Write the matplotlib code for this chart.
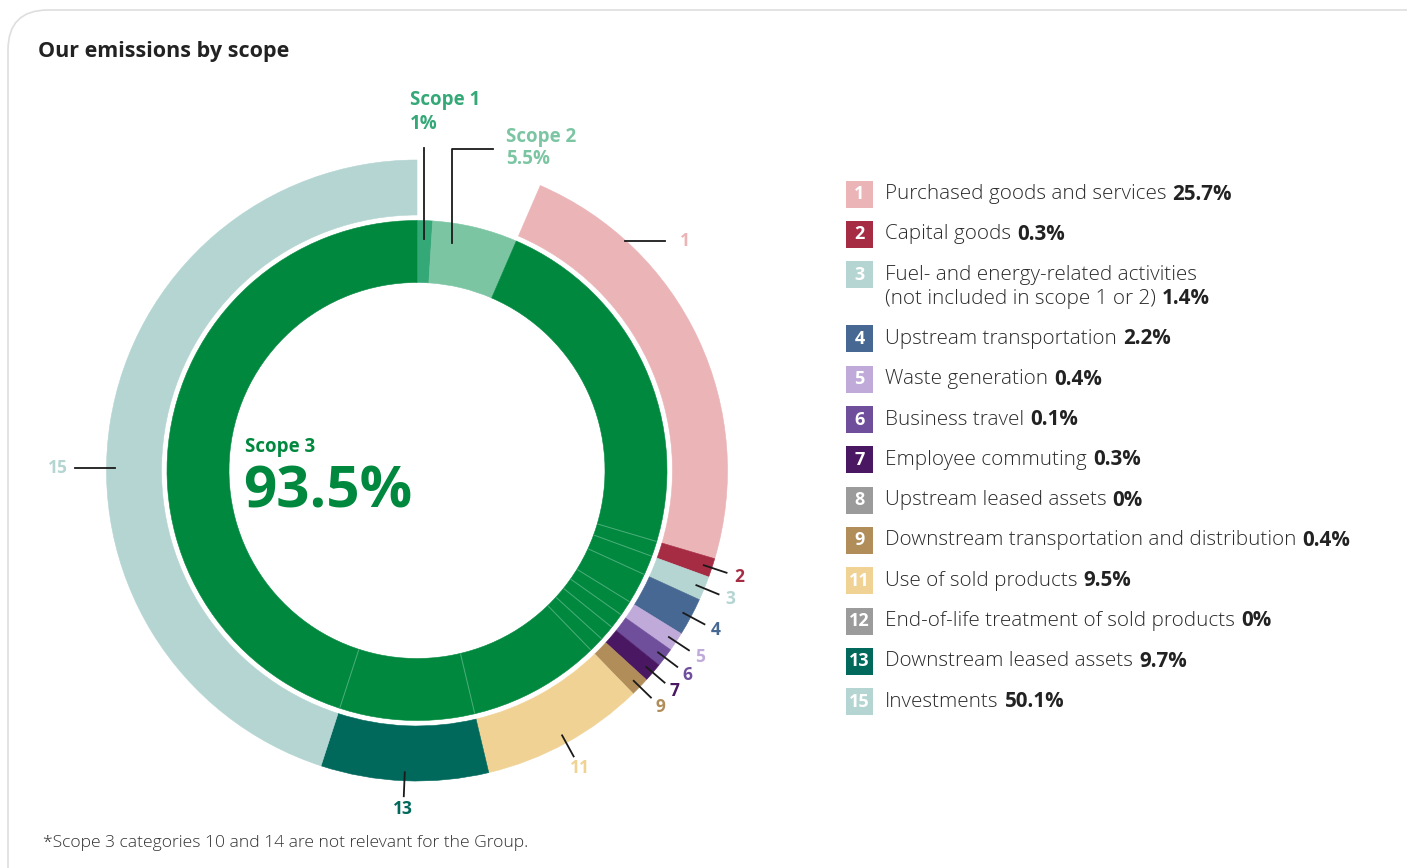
import matplotlib
matplotlib.use('Agg')
import matplotlib.pyplot as plt
from matplotlib.patches import FancyBboxPatch, Rectangle
import numpy as np

W, H = 1407, 868
plt.rcParams['font.family'] = ['Open Sans', 'DejaVu Sans']

# ---------------- data ----------------
scope_names = ['Scope 1', 'Scope 2', 'Scope 3']
scope_values = [1.0, 5.5, 93.5]
scope_colors = ['#35a877', '#7cc5a3', '#00893e']

cat_ids = ['1', '2', '3', '4', '5', '6', '7', '8', '9', '11', '12', '13', '15']
cat_names = [
    'Purchased goods and services',
    'Capital goods',
    'Fuel- and energy-related activities\n(not included in scope 1 or 2)',
    'Upstream transportation',
    'Waste generation',
    'Business travel',
    'Employee commuting',
    'Upstream leased assets',
    'Downstream transportation and distribution',
    'Use of sold products',
    'End-of-life treatment of sold products',
    'Downstream leased assets',
    'Investments',
]
cat_values = [25.7, 0.3, 1.4, 2.2, 0.4, 0.1, 0.3, 0.0, 0.4, 9.5, 0.0, 9.7, 50.1]
cat_value_labels = ['25.7%', '0.3%', '1.4%', '2.2%', '0.4%', '0.1%', '0.3%', '0%',
                    '0.4%', '9.5%', '0%', '9.7%', '50.1%']
cat_colors = ['#ebb4b7', '#a62c44', '#b4d5d2', '#476892', '#bfaad9', '#6f4f9c',
              '#4a1862', '#9b9b9b', '#b18d5a', '#f0d295', '#9b9b9b', '#00695c', '#b4d5d2']

title = 'Our emissions by scope'
footnote = '*Scope 3 categories 10 and 14 are not relevant for the Group.'

# display minimum for very small slices (as in the original infographic)
MIN_SHARE = 1.1

# ---------------- figure ----------------
fig = plt.figure(figsize=(W / 100, H / 100), dpi=100)
ax = fig.add_axes([0, 0, 1, 1])


def Y(y):
    return H - y


# panel border
ax.add_patch(FancyBboxPatch((8, Y(920)), 1600, 910,
                            boxstyle='round,pad=0,rounding_size=40',
                            fc='white', ec='#dedede', lw=1.2, zorder=0))

cx, cy = 417, Y(470.5)

# inner ring: scopes
inner, _ = ax.pie(scope_values, radius=250, center=(cx, cy), startangle=90,
                  counterclock=False, colors=scope_colors,
                  wedgeprops=dict(width=62, linewidth=0))
for w in inner:
    w.set_edgecolor(w.get_facecolor())
    w.set_linewidth(0.4)

# outer ring: scope 3 categories
shown = [i for i, v in enumerate(cat_values) if v > 0]
disp = np.array([max(cat_values[i], MIN_SHARE) for i in shown])
frac = disp / disp.sum() * scope_values[2] / 100.0
start = 90 - 360 * (scope_values[0] + scope_values[1]) / 100.0
outer, _ = ax.pie(frac, radius=310.5, center=(cx, cy), startangle=start,
                  counterclock=False, colors=[cat_colors[i] for i in shown],
                  wedgeprops=dict(width=55, linewidth=0), normalize=False)
for w in outer:
    w.set_edgecolor(w.get_facecolor())
    w.set_linewidth(0.4)

# separators inside the scope 3 ring at category boundaries
for w in outer[:-1]:
    a = np.deg2rad(w.theta1)
    ax.plot([cx + 189 * np.cos(a), cx + 249 * np.cos(a)],
            [cy + 189 * np.sin(a), cy + 249 * np.sin(a)],
            color='#4cae7a', lw=0.7, zorder=5)

# category labels with leader lines
special = {'1': (625, 665, 241, 685), '15': (115, 75, 468, 58)}
for w, i in zip(outer, shown):
    cid = cat_ids[i]
    col = cat_colors[i]
    if cid in special:
        x0, x1, yy, xl = special[cid]
        ax.plot([x0, x1], [Y(yy), Y(yy)], color='#1a1a1a', lw=1.3, zorder=6)
        ax.text(xl, Y(yy), cid, ha='center', va='center', color=col,
                fontsize=12.5, fontweight='bold')
        continue
    a = np.deg2rad((w.theta1 + w.theta2) / 2)
    ca, sa = np.cos(a), np.sin(a)
    ax.plot([cx + 302 * ca, cx + 326 * ca], [cy + 302 * sa, cy + 326 * sa],
            color='#1a1a1a', lw=1.3, zorder=6)
    ax.text(cx + 339 * ca, cy + 339 * sa, cid, ha='center', va='center',
            color=col, fontsize=12.5, fontweight='bold')

# scope labels
ax.plot([424, 424], [Y(148), Y(239)], color='#1a1a1a', lw=1.3, zorder=6)
ax.plot([493, 452, 452], [Y(149), Y(149), Y(243)], color='#1a1a1a', lw=1.3, zorder=6)
ax.text(410, Y(100), scope_names[0], ha='left', va='center', color=scope_colors[0],
        fontsize=13.5, fontweight='bold')
ax.text(410, Y(124), f'{scope_values[0]:g}%', ha='left', va='center',
        color=scope_colors[0], fontsize=13.5, fontweight='bold')
ax.text(506, Y(137), scope_names[1], ha='left', va='center', color=scope_colors[1],
        fontsize=13.5, fontweight='bold')
ax.text(506, Y(159), f'{scope_values[1]:g}%', ha='left', va='center',
        color=scope_colors[1], fontsize=13.5, fontweight='bold')
ax.text(245, Y(447), scope_names[2], ha='left', va='center', color=scope_colors[2],
        fontsize=13.5, fontweight='bold')
ax.text(243, Y(492), f'{scope_values[2]:g}%', ha='left', va='center',
        color=scope_colors[2], fontsize=42, fontweight='bold')

# title & footnote
ax.text(38, Y(51), title, ha='left', va='center', color='#222222',
        fontsize=15.5, fontweight='bold')
ax.text(43, Y(843), footnote, ha='left', va='center', color='#333333',
        fontsize=12.6, fontweight='light')

ax.set_xlim(0, W)
ax.set_ylim(0, H)
ax.set_aspect('equal')
ax.axis('off')

# legend
renderer = fig.canvas.get_renderer()
y = 194
for k in range(len(cat_ids)):
    ax.add_patch(Rectangle((846, Y(y + 13.5)), 27, 27, fc=cat_colors[k], ec='none'))
    ax.text(859.5, Y(y), cat_ids[k], ha='center', va='center', color='white',
            fontsize=13, fontweight='bold')
    lines = cat_names[k].split('\n')
    yy = y
    for j, ln in enumerate(lines):
        t = ax.text(885, Y(yy), ln, ha='left', va='center', color='#2a2a2a',
                    fontsize=14.9, fontweight='light')
        if j == len(lines) - 1:
            x1 = t.get_window_extent(renderer).x1
            ax.text(x1 + 6, Y(yy), cat_value_labels[k], ha='left', va='center',
                    color='#222222', fontsize=14.9, fontweight='bold')
        else:
            yy += 24
    y = yy + 40.3

fig.savefig('out.png', dpi=100)
